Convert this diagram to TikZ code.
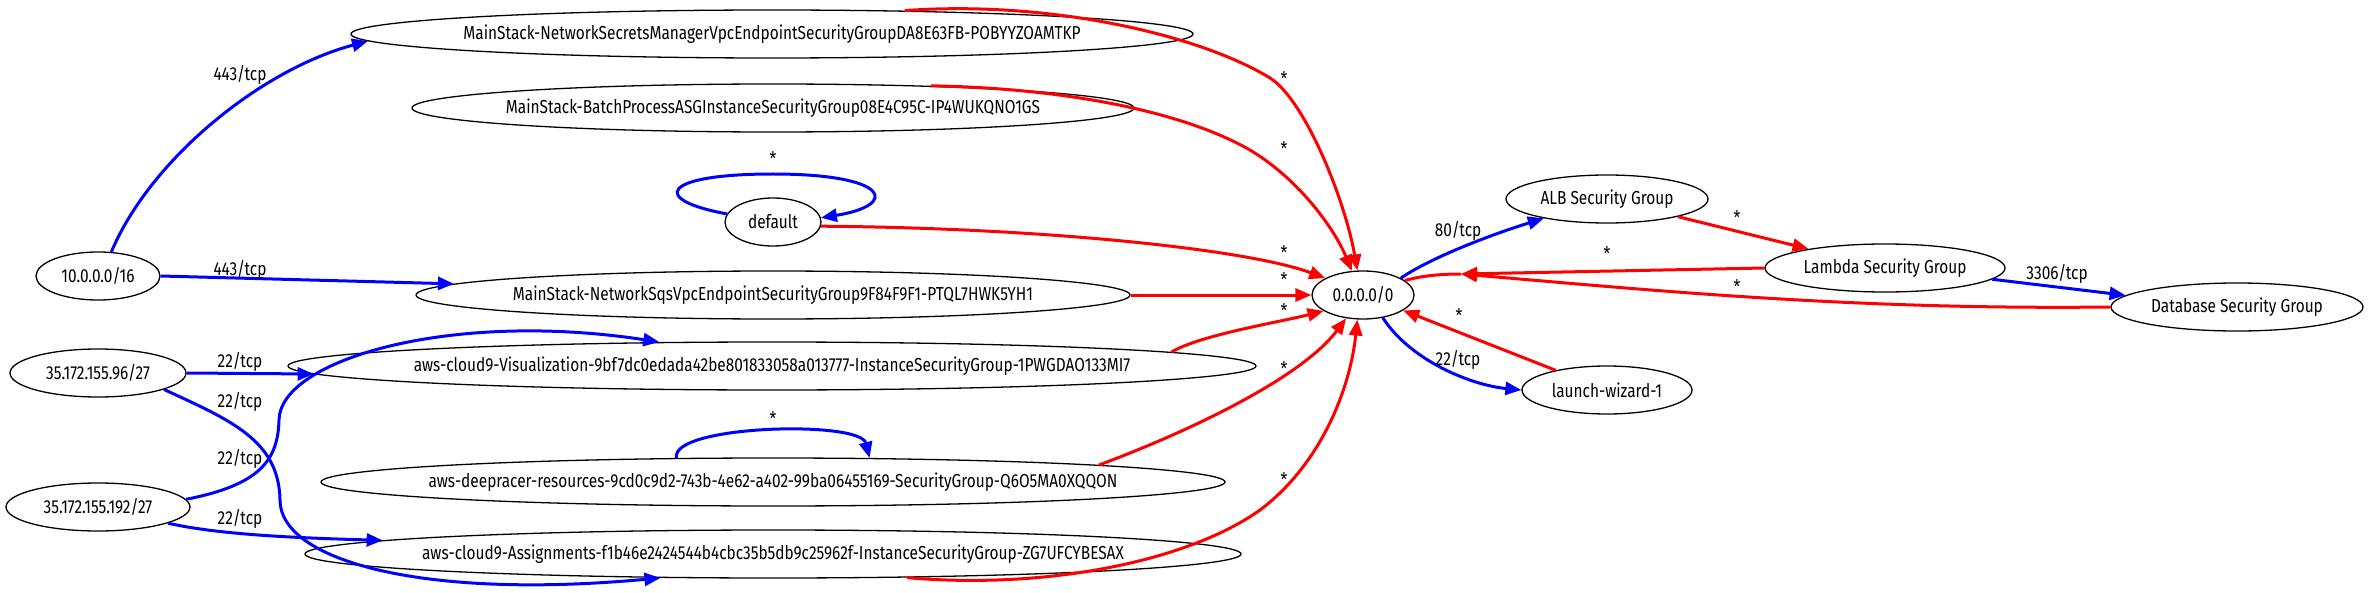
\documentclass[tikz,border=0pt]{standalone}
\usepackage{fontspec}
\setmainfont[FakeStretch=0.82]{Fira Sans}
\usetikzlibrary{arrows.meta,shapes.geometric}

\begin{document}
\begin{tikzpicture}[
  x=0.5pt, y=-0.5pt,
  font=\fontsize{9.4}{11}\selectfont,
  sg/.style={ellipse, draw, line width=0.65pt, inner xsep=-20pt, inner ysep=0pt, minimum height=24pt},
  lbl/.style={inner sep=0pt, text=black},
  allow/.style={-{Triangle[length=8pt,width=6.5pt]}, blue, line width=1.5pt},
  egress/.style={allow, red},
]
\useasboundingbox (0,0) rectangle (2369,593);

% --- CIDR sources ---
\node[sg, minimum width=62pt] (cidr16) at (98,276) {10.0.0.0/16};
\node[sg, minimum width=88pt] (cidr96) at (98,373) {35.172.155.96/27};
\node[sg, minimum width=92pt] (cidr192) at (98,507) {35.172.155.192/27};

% --- Security groups (middle column) ---
\node[sg, minimum width=421pt] (sgSecrets) at (772,34) {MainStack-NetworkSecretsManagerVpcEndpointSecurityGroupDA8E63FB-POBYYZOAMTKP};
\node[sg, minimum width=361pt] (sgBatch) at (773,108) {MainStack-BatchProcessASGInstanceSecurityGroup08E4C95C-IP4WUKQNO1GS};
\node[sg, minimum width=48pt] (sgDefault) at (773,222) {default};
\node[sg, minimum width=357pt] (sgSqs) at (773,295) {MainStack-NetworkSqsVpcEndpointSecurityGroup9F84F9F1-PTQL7HWK5YH1};
\node[sg, minimum width=484pt] (sgViz) at (772,366) {aws-cloud9-Visualization-9bf7dc0edada42be801833058a013777-InstanceSecurityGroup-1PWGDAO133MI7};
\node[sg, minimum width=452pt] (sgRacer) at (773,482) {aws-deepracer-resources-9cd0c9d2-743b-4e62-a402-99ba06455169-SecurityGroup-Q6O5MA0XQQON};
\node[sg, minimum width=468pt] (sgAssign) at (773,554) {aws-cloud9-Assignments-f1b46e2424544b4cbc35b5db9c25962f-InstanceSecurityGroup-ZG7UFCYBESAX};

% --- Anywhere and right-hand groups ---
\node[sg, minimum width=51pt] (any) at (1363,295) {0.0.0.0/0};
\node[sg, minimum width=101pt] (sgAlb) at (1607,199) {ALB Security Group};
\node[sg, minimum width=120pt] (sgLambda) at (1885,268) {Lambda Security Group};
\node[sg, minimum width=126pt] (sgDb) at (2237,307) {Database Security Group};
\node[sg, minimum width=85pt] (sgWizard) at (1607,390) {launch-wizard-1};
\coordinate (merge) at (1461,274);

% --- ingress from CIDRs ---
\draw[allow] (cidr16.61) .. controls (150,160) and (260,70) .. (sgSecrets.181) node[lbl] at (240,75) {443/tcp};
\draw[allow] (cidr16.east) -- (sgSqs.178) node[lbl] at (240,270) {443/tcp};
\draw[allow] (cidr96.east) -- (sgViz.181) node[lbl] at (240,362) {22/tcp};
\draw[allow] (cidr96.-14) .. controls (230,420) and (279,440) .. (280,500)
  .. controls (280,560) and (420,600) .. (sgAssign.192) node[lbl] at (240,402) {22/tcp};
\draw[allow] (cidr192.5) .. controls (260,485) and (278,460) .. (279,420)
  .. controls (280,360) and (450,310) .. (sgViz.168) node[lbl] at (240,459) {22/tcp};
\draw[allow] (cidr192.-13) .. controls (220,535) and (300,538) .. (sgAssign.178.5) node[lbl] at (240,519) {22/tcp};

% --- self loops ---
\draw[allow] (sgDefault.170) .. controls (650,200) and (660,174) .. (773,174)
  .. controls (890,174) and (900,205) .. (sgDefault.5) node[lbl] at (773,159) {*};
\draw[allow] (sgRacer.166) .. controls (670,425) and (860,420) .. (sgRacer.14) node[lbl] at (773,419) {*};

% --- egress to 0.0.0.0/0 ---
\draw[egress] (sgSecrets.10) .. controls (1050,0) and (1200,35) .. (1270,78)
  .. controls (1305,100) and (1345,200) .. (any.103) node[lbl] at (1284,79) {*};
\draw[egress] (sgBatch.8) .. controls (1060,88) and (1180,110) .. (1250,150)
  .. controls (1300,180) and (1335,230) .. (any.115) node[lbl] at (1284,149) {*};
\draw[egress] (sgDefault.-5) .. controls (1050,228) and (1250,250) .. (any.156) node[lbl] at (1284,253) {*};
\draw[egress] (sgSqs.east) -- (any.west) node[lbl] at (1284,280) {*};
\draw[egress] (sgViz.2.5) .. controls (1200,335) and (1280,322) .. (any.202) node[lbl] at (1284,311) {*};
\draw[egress] (sgRacer.3.6) .. controls (1180,435) and (1300,380) .. (any.234) node[lbl] at (1284,369) {*};
\draw[egress] (sgAssign.-10) .. controls (1050,590) and (1190,560) .. (1260,510)
  .. controls (1320,465) and (1350,390) .. (any.257) node[lbl] at (1284,480) {*};

% --- right side ---
\draw[allow] (any.24) .. controls (1430,258) and (1490,235) .. (sgAlb.197) node[lbl] at (1458,231) {80/tcp};
\draw[allow] (any.-49) .. controls (1410,360) and (1470,385) .. (sgWizard.west) node[lbl] at (1458,360) {22/tcp};
\draw[egress] (sgWizard.159) -- (any.-21) node[lbl] at (1459,316) {*};
\draw[egress] (sgAlb.-14) -- (sgLambda.166) node[lbl] at (1737,218) {*};
\draw[allow] (sgLambda.-6) -- (sgDb.174) node[lbl] at (2057,274) {3306/tcp};
\draw[egress] (sgLambda.west) -- (merge) node[lbl] at (1607,254) {*};
\draw[egress] (sgDb.west) .. controls (1850,310) and (1650,290) .. (merge) node[lbl] at (1737,287) {*};
\draw[red, line width=1.5pt] (merge) .. controls (1440,274) and (1420,276) .. (any.19);

\end{tikzpicture}
\end{document}
